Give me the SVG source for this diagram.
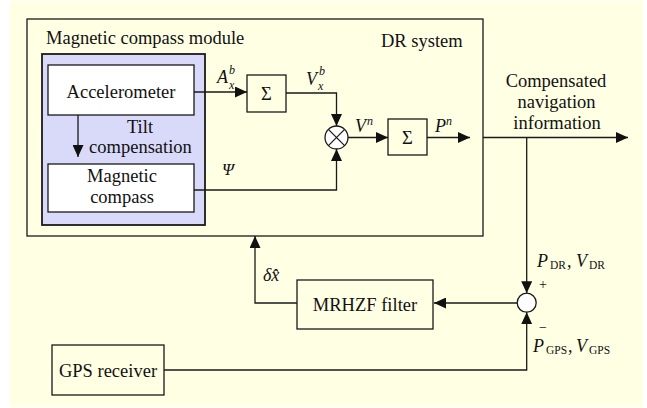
<svg xmlns="http://www.w3.org/2000/svg" width="647" height="408" viewBox="0 0 647 408">
<defs>
<style>
text{font-family:"Liberation Serif","Tinos","DejaVu Serif","Noto Serif",serif;fill:#111}
.t{font-size:18.5px}
.m{text-anchor:middle}
.i{font-style:italic;font-size:18px}
.s{font-style:italic;font-size:12px}
.u{font-size:11.5px}
.box{fill:#fff;stroke:#1a1a1a;stroke-width:1.3}
.ybox{fill:#FFFFE4;stroke:#1a1a1a;stroke-width:1.3}
.ln{fill:none;stroke:#1a1a1a;stroke-width:1.3}
.ar{fill:none;stroke:#1a1a1a;stroke-width:1.3;marker-end:url(#ah)}
</style>
<marker id="ah" markerUnits="userSpaceOnUse" markerWidth="12" markerHeight="11" refX="12" refY="5.5" orient="auto">
<path d="M0,0 L12,5.5 L0,11 z" fill="#111"/>
</marker>
</defs>
<rect x="10" y="1" width="633" height="406" fill="#FFFFE4"/>

<g id="dr-system">
<rect x="27" y="19" width="456" height="217" class="ybox"/>
<text x="381" y="47" class="t">DR system</text>
</g>

<g id="compass-module">
<text x="46" y="44" class="t">Magnetic compass module</text>
<rect x="42" y="54" width="163" height="171" fill="#D9D9F9" stroke="#1a1a1a" stroke-width="1.8"/>
</g>

<g id="accelerometer">
<rect x="48" y="65" width="146" height="50" class="box"/>
<text x="121" y="98" class="t m">Accelerometer</text>
</g>

<g id="magnetic-compass">
<rect x="48" y="164" width="146" height="48" class="box"/>
<text x="122" y="182" class="t m">Magnetic</text>
<text x="122" y="203" class="t m">compass</text>
</g>

<g id="tilt-label">
<text x="140" y="133" class="t m">Tilt</text>
<text x="140.5" y="153" class="t m">compensation</text>
</g>

<g id="sum1">
<rect x="247" y="75" width="39" height="37" class="ybox"/>
<text x="266.5" y="100" class="t m">Σ</text>
</g>

<g id="mult">
<circle cx="336.5" cy="137.5" r="11.5" fill="#fff" stroke="#1a1a1a" stroke-width="1.3"/>
<path d="M328.4,129.4 L344.6,145.6 M344.6,129.4 L328.4,145.6" class="ln"/>
</g>

<g id="sum2">
<rect x="388" y="119" width="39" height="36" class="ybox"/>
<text x="407.5" y="144" class="t m">Σ</text>
</g>

<g id="output-label">
<text x="556" y="87" class="t m">Compensated</text>
<text x="556.5" y="108" class="t m">navigation</text>
<text x="557" y="129" class="t m">information</text>
</g>

<g id="diff">
<circle cx="526.7" cy="302.7" r="9.5" fill="#fff" stroke="#1a1a1a" stroke-width="1.3"/>
<text x="539" y="289" style="font-size:14px">+</text>
<text x="539" y="332" style="font-size:14px">−</text>
</g>

<g id="mrhzf">
<rect x="297" y="280" width="136" height="49" class="ybox"/>
<text x="365" y="311" class="t m">MRHZF filter</text>
</g>

<g id="gps">
<rect x="52" y="345" width="112" height="50" class="ybox"/>
<text x="108" y="377" class="t m">GPS receiver</text>
</g>

<g id="connectors">
<path d="M194,92 H247" class="ar"/>
<path d="M78,115 V157" class="ar"/>
<path d="M286,93 H336.5 V126" class="ar"/>
<path d="M194,190 H336.5 V149" class="ar"/>
<path d="M348,137.5 H388" class="ar"/>
<path d="M427,137.5 H470" class="ar"/>
<path d="M483,137.5 H628" class="ar"/>
<path d="M526.7,137.5 V293.2" class="ar"/>
<path d="M164,370 H526.7 V312.2" class="ar"/>
<path d="M517.2,303 H434" class="ar"/>
<path d="M297,303 H255 V236" class="ar"/>
</g>

<g id="labels">
<text class="i"><tspan x="217" y="83">A</tspan><tspan x="229" y="74" class="s">b</tspan><tspan x="229" y="88.5" class="s">x</tspan></text>
<text class="i"><tspan x="306" y="85">V</tspan><tspan x="319" y="75" class="s">b</tspan><tspan x="318" y="89.5" class="s">x</tspan></text>
<text class="i"><tspan x="355" y="132">V</tspan><tspan x="367" y="125" class="s">n</tspan></text>
<text class="i"><tspan x="435" y="132">P</tspan><tspan x="446" y="125" class="s">n</tspan></text>
<text x="222" y="175" class="i" style="font-size:17px">Ψ</text>
<text x="263" y="281" class="i">δx̂</text>
<text class="i"><tspan x="537" y="267">P</tspan><tspan x="550" y="269" class="u" style="font-style:normal">DR</tspan><tspan x="567" y="267" style="font-style:normal">,</tspan><tspan x="576" y="267">V</tspan><tspan x="589" y="269" class="u" style="font-style:normal">DR</tspan></text>
<text class="i"><tspan x="533" y="352">P</tspan><tspan x="546" y="353.5" class="u" style="font-style:normal">GPS</tspan><tspan x="568" y="352" style="font-style:normal">,</tspan><tspan x="576" y="352">V</tspan><tspan x="589" y="353.5" class="u" style="font-style:normal">GPS</tspan></text>
</g>
</svg>
